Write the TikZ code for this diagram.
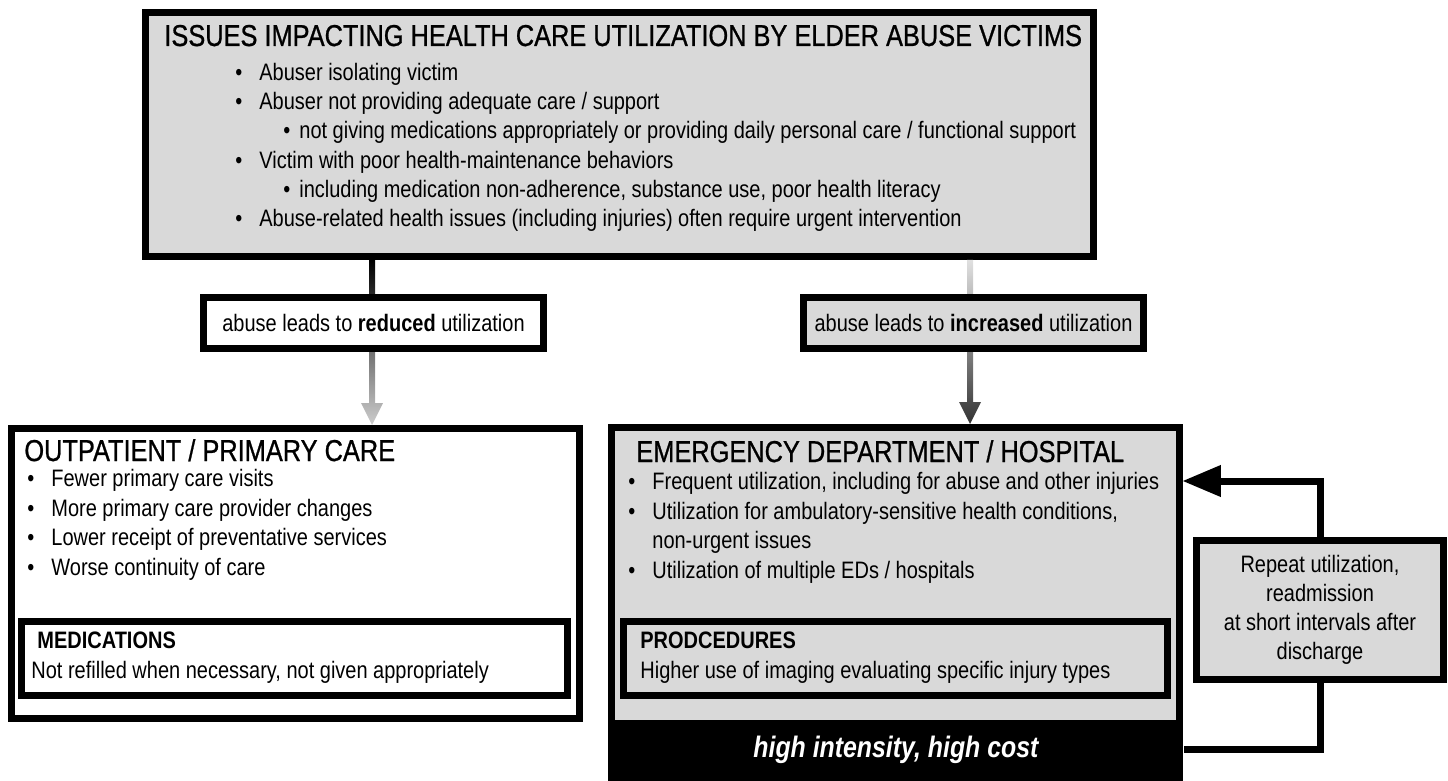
\documentclass[tikz,border=0pt]{standalone}
\usepackage{fontspec}
\setmainfont{Liberation Sans}[FakeStretch=0.84]
\newfontfamily\headfont{Liberation Sans}[FakeStretch=0.84, FakeBold=0.8]
\usetikzlibrary{positioning,calc,arrows}
\tikzstyle{box} = [draw, line width=3.5pt, inner sep=0pt, anchor=north west]
\tikzstyle{graybox} = [box, fill=black!15]
\tikzstyle{whitebox} = [box, fill=white]
\tikzstyle{head} = [inner sep=0pt, anchor=base west, font=\headfont\fontsize{15.1}{18}\selectfont]
\tikzstyle{txt} = [inner sep=0pt, anchor=base west, align=left, font=\fontsize{11.9}{14.7}\selectfont]
\tikzstyle{loop} = [draw, line width=3.5pt]
\newcommand{\bul}{\makebox[12pt][l]{\textbullet}}
\newcommand{\subbul}{\hspace*{24pt}\makebox[8pt][l]{\textbullet}}

\begin{document}
\begin{tikzpicture}[x=0.5pt, y=-0.5pt, >=latex]
    \useasboundingbox (0,0) rectangle (1448,781);
    % The boxes first
    \node [graybox, minimum width=474pt, minimum height=122pt] (issues) at (142,9) {};
    \node [whitebox, minimum width=284pt, minimum height=145pt] (outpt) at (8,425) {};
    \node [whitebox, minimum width=273pt, minimum height=37pt] (meds) at (18,618) {};
    \node [graybox, minimum width=284pt, minimum height=175pt] (ed) at (608,424) {};
    \node [fill=black, text=white, inner sep=0pt, minimum width=287.5pt, minimum height=30.5pt,
        anchor=south west, font=\fontsize{14.8}{17}\selectfont\bfseries\itshape] (cost) at (ed.south west) {high intensity, high cost};
    \node [graybox, minimum width=272pt, minimum height=37pt] (proc) at (620,618) {};
    \node [graybox, minimum width=123.5pt, minimum height=69.5pt, align=center,
        font=\fontsize{11.9}{14.5}\selectfont] (repeat) at (1193,537)
        {Repeat utilization,\\ readmission\\ at short intervals after\\ discharge};

    % Shaded arrows from the top box
    \coordinate (lt) at (372,262);
    \coordinate (rt) at (970,262);
    \shade [top color=black, bottom color=black!20]
        ($(lt|-issues.south)+(-3,0)$) -- ($(lt|-outpt.north)+(-3,-22)$) -- ($(lt|-outpt.north)+(-11,-22)$)
        -- (lt|-outpt.north) -- ($(lt|-outpt.north)+(11,-22)$) -- ($(lt|-outpt.north)+(3,-22)$)
        -- ($(lt|-issues.south)+(3,0)$) -- cycle;
    \shade [top color=black!12, bottom color=black!80]
        ($(rt|-issues.south)+(-3,0)$) -- ($(rt|-ed.north)+(-3,-22)$) -- ($(rt|-ed.north)+(-11,-22)$)
        -- (rt|-ed.north) -- ($(rt|-ed.north)+(11,-22)$) -- ($(rt|-ed.north)+(3,-22)$)
        -- ($(rt|-issues.south)+(3,0)$) -- cycle;
    \node [whitebox, minimum width=170pt, minimum height=25.5pt, font=\fontsize{11.9}{14}\selectfont] (reduced) at (200,294)
        {abuse leads to \textbf{reduced} utilization};
    \node [graybox, minimum width=170pt, minimum height=25.5pt, font=\fontsize{11.9}{14}\selectfont] (increased) at (800,294)
        {abuse leads to \textbf{increased} utilization};

    % Texts inside the boxes (anchored at the last line)
    \node [head] (issuestitle) at (164,46) {ISSUES IMPACTING HEALTH CARE UTILIZATION BY ELDER ABUSE VICTIMS};
    \node [txt] (issueslist) at (235,227) {\bul Abuser isolating victim\\
        \bul Abuser not providing adequate care / support\\
        \subbul not giving medications appropriately or providing daily personal care / functional support\\
        \bul Victim with poor health-maintenance behaviors\\
        \subbul including medication non-adherence, substance use, poor health literacy\\
        \bul Abuse-related health issues (including injuries) often require urgent intervention};
    \node [head] (outpttitle) at (24,461) {OUTPATIENT / PRIMARY CARE};
    \node [txt] (outptlist) at (27,575) {\bul Fewer primary care visits\\
        \bul More primary care provider changes\\
        \bul Lower receipt of preventative services\\
        \bul Worse continuity of care};
    \node [txt] (medstext) at (31,678) {\hspace*{3pt}\textbf{MEDICATIONS}\\ Not refilled when necessary, not given appropriately};
    \node [head] (edtitle) at (636,462) {EMERGENCY DEPARTMENT / HOSPITAL};
    \node [txt] (edlist) at (628,578) {\bul Frequent utilization, including for abuse and other injuries\\
        \bul Utilization for ambulatory-sensitive health conditions,\\
        \hspace*{12pt}non-urgent issues\\
        \bul Utilization of multiple EDs / hospitals};
    \node [txt] (proctext) at (640,678) {\textbf{PRODCEDURES}\\ Higher use of imaging evaluating specific injury types};

    % The repeat loop
    \coordinate (looptop) at (repeat.north |- 0,481);
    \coordinate (loopbot) at (repeat.south |- 0,749);
    \draw [loop, ->, >=triangle 45] (repeat.north) -- (looptop) -- (looptop -| ed.east);
    \draw [loop] (repeat.south) -- (loopbot) -- (loopbot -| cost.east);
\end{tikzpicture}
\end{document}
